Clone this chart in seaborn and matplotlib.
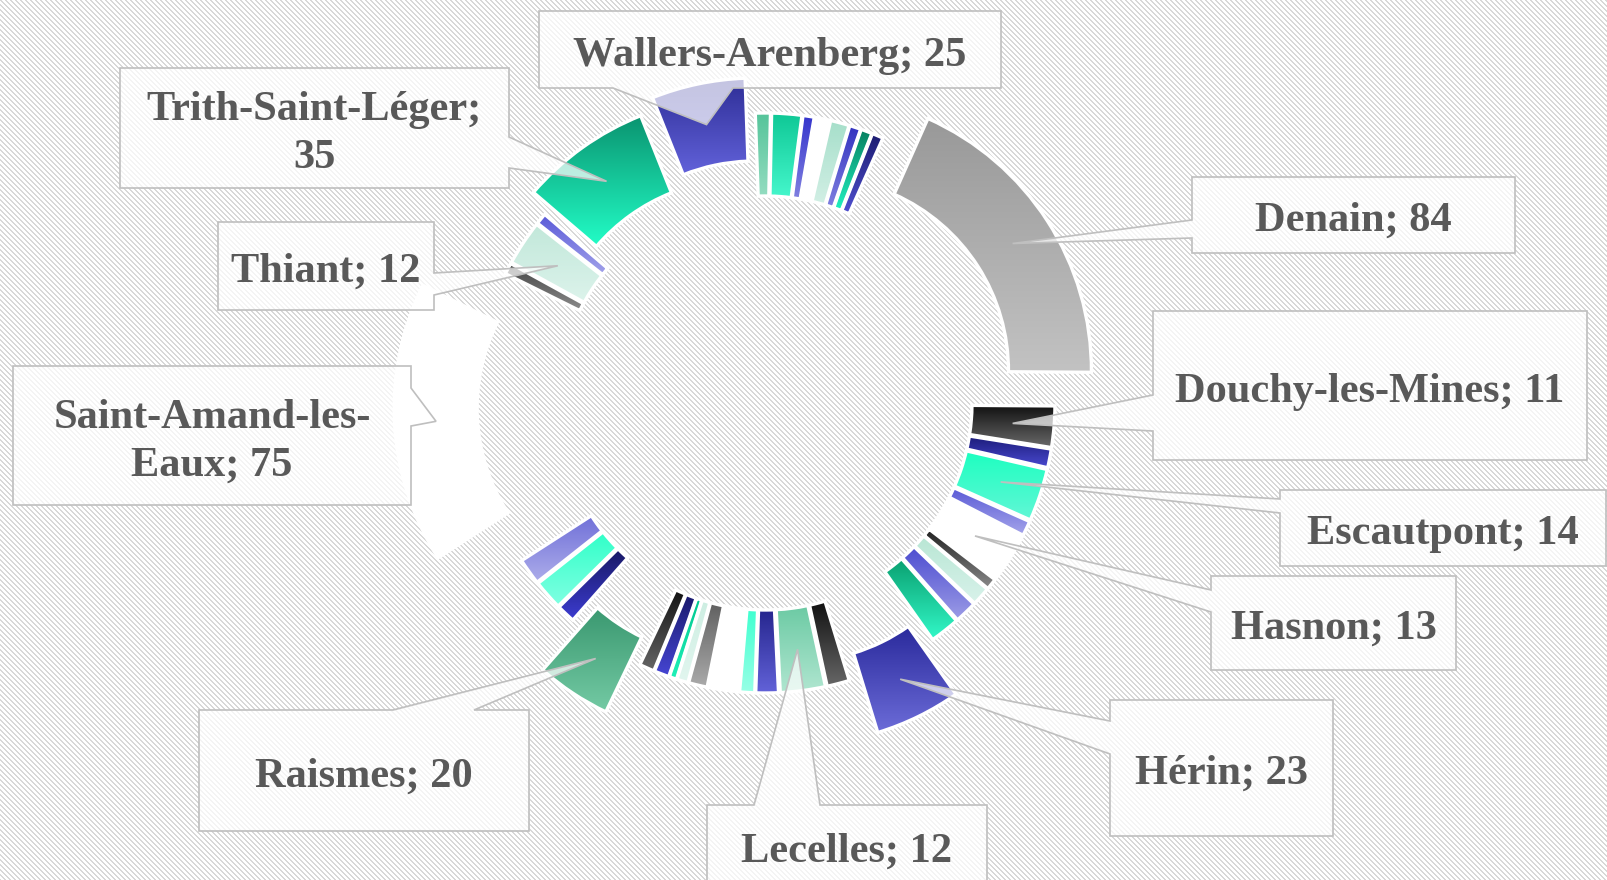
import numpy as np
import matplotlib
matplotlib.use("Agg")
import matplotlib.pyplot as plt
from matplotlib.patches import Polygon
import seaborn as sns

# slices clockwise from the top; unnamed slices carry no label in the chart
names = ["", "", "", "", "", "", "", "",
         "Denain", "Douchy-les-Mines", "", "Escautpont", "", "Hasnon",
         "", "", "", "", "Hérin",
         "", "Lecelles", "", "", "", "", "", "", "", "",
         "Raismes", "", "", "",
         "Saint-Amand-les-Eaux", "", "Thiant", "",
         "Trith-Saint-Léger", "Wallers-Arenberg"]
values = [4, 8, 3, 4, 5, 3, 3, 3,
          84, 11, 5, 14, 4, 13,
          3, 5, 6, 8, 23,
          6, 12, 6, 4, 8, 5, 3, 2, 4, 4,
          20, 5, 8, 7,
          75, 3, 12, 3,
          35, 25]

# gradient colours (top, bottom) for each slice
grads = [("#55c49a", "#93dcc0"), ("#0fc896", "#45f7cc"), ("#3535cc", "#8080e0"),
         ("#ffffff", "#ffffff"), ("#a6dfca", "#d2efe5"), ("#3333c0", "#8080e0"),
         ("#078060", "#22f2c2"), ("#1c1c70", "#5050d0"),
         ("#999999", "#c2c2c2"), ("#111111", "#6a6a6a"), ("#1c1c7a", "#4a4ad0"),
         ("#1cffc0", "#62f7d6"), ("#5a5ad6", "#a4a4ea"), ("#ffffff", "#ffffff"),
         ("#222222", "#8a8a8a"), ("#b8e6d4", "#d8f2ea"), ("#4c4cd0", "#9c9ce6"),
         ("#0aa070", "#32f8c8"), ("#2a2a9c", "#6c6cd8"),
         ("#111111", "#666666"), ("#6ccaa4", "#b0e6d0"), ("#26268e", "#6262d8"),
         ("#40ffd0", "#98ffe6"), ("#ffffff", "#ffffff"), ("#606060", "#aaaaaa"),
         ("#cdeee2", "#e2f6ef"), ("#00c890", "#20f0b8"), ("#1a1a6c", "#4646d4"),
         ("#111111", "#666666"),
         ("#3a9870", "#74caa4"), ("#181864", "#3c3cd0"), ("#30ffc8", "#80ffe2"),
         ("#7070d8", "#acacea"),
         ("#ffffff", "#ffffff"), ("#444444", "#8c8c8c"), ("#c2e8da", "#dcf3eb"),
         ("#5a5ad8", "#a2a2ea"),
         ("#0a9470", "#22fcc6"), ("#2e2e96", "#6262da")]

# exploded slices (pixels), the rest use the default
explode_px = {"Denain": 60, "Hérin": 73, "Raismes": 72, "Saint-Amand-les-Eaux": 95,
              "Trith-Saint-Léger": 38, "Wallers-Arenberg": 50}
default_explode = 14

# label boxes in image pixels: (x0, y0, x1, y1), pointer side, pointer base
callouts = {
    "Wallers-Arenberg": ((539, 11, 1001, 88), "bottom", (613, 733)),
    "Trith-Saint-Léger": ((120, 68, 509, 188), "right", (137, 168)),
    "Thiant": ((218, 222, 434, 310), "right", (273, 295)),
    "Saint-Amand-les-Eaux": ((13, 366, 411, 505), "right", (388, 426)),
    "Raismes": ((199, 710, 529, 831), "top", (393, 474)),
    "Lecelles": ((707, 805, 987, 887), "top", (754, 820)),
    "Hérin": ((1110, 700, 1333, 836), "left", (721, 754)),
    "Hasnon": ((1211, 576, 1456, 670), "left", (590, 612)),
    "Escautpont": ((1280, 490, 1606, 566), "left", (499, 513)),
    "Douchy-les-Mines": ((1153, 311, 1587, 460), "left", (395, 431)),
    "Denain": ((1192, 177, 1515, 253), "left", (220, 238)),
}

W, H = 1608, 880
CENTER = (765, H - 403)
R_OUT, RING = 276, 83


def label_text(name, v):
    if name == "Saint-Amand-les-Eaux":
        return f"Saint-Amand-les-\nEaux; {v}"
    if name == "Trith-Saint-Léger":
        return f"{name};\n{v}"
    return f"{name}; {v}"


def callout_points(box, side, base, tip):
    x0, y0, x1, y1 = box
    b0, b1 = base
    if side == "left":
        pts = [(x0, y0), (x1, y0), (x1, y1), (x0, y1), (x0, b1), tip, (x0, b0)]
    elif side == "right":
        pts = [(x0, y0), (x1, y0), (x1, b0), tip, (x1, b1), (x1, y1), (x0, y1)]
    elif side == "top":
        pts = [(x0, y0), (b0, y0), tip, (b1, y0), (x1, y0), (x1, y1), (x0, y1)]
    else:
        pts = [(x0, y0), (x1, y0), (x1, y1), (b1, y1), tip, (b0, y1), (x0, y1)]
    return [(x, H - y) for x, y in pts]


sns.set_theme(style="white")
plt.rcParams["font.family"] = ["Liberation Serif", "DejaVu Serif"]

fig = plt.figure(figsize=(W / 100, H / 100), dpi=100)
ax = fig.add_axes([0, 0, 1, 1])

# hatched background
yy, xx = np.mgrid[0:H, 0:W]
stripe = ((xx - yy) % 5) < 2
bg = np.where(stripe[..., None], np.array([0.85, 0.85, 0.85]), np.array([1.0, 1.0, 1.0]))
ax.imshow(bg, extent=(0, W, 0, H), origin="upper", interpolation="nearest", zorder=0)

explode = [explode_px.get(n, default_explode) for n in names]
wedges, _ = ax.pie(values, radius=R_OUT, center=CENTER, startangle=92,
                   counterclock=False, explode=explode,
                   wedgeprops=dict(width=RING, facecolor="none",
                                   edgecolor="white", linewidth=2.4))

for w, (top, bot) in zip(wedges, grads):
    bb = w.get_path().get_extents()
    grad = np.array(sns.blend_palette([top, bot], n_colors=64))[:, None, :3]
    im = ax.imshow(grad, extent=(bb.x0, bb.x1, bb.y0, bb.y1), origin="upper",
                   aspect="auto", interpolation="bilinear", zorder=2)
    im.set_clip_path(w)
    w.set_zorder(3)

r_mid = R_OUT - RING / 2
for w, name, v in zip(wedges, names, values):
    if not name:
        continue
    box, side, base = callouts[name]
    th = np.deg2rad((w.theta1 + w.theta2) / 2)
    tx = w.center[0] + r_mid * np.cos(th)
    ty = w.center[1] + r_mid * np.sin(th)
    pts = callout_points(box, side, base, (tx, H - ty))
    ax.add_patch(Polygon(pts, closed=True, facecolor=(1, 1, 1, 0.72),
                         edgecolor="#bfbfbf", linewidth=1.2, zorder=5))
    cx = (box[0] + box[2]) / 2
    cy = H - (box[1] + box[3]) / 2 - 6
    ax.text(cx, cy, label_text(name, v), ha="center", va="center",
            fontsize=30.5, fontweight="bold", color="#595959",
            linespacing=1.33, zorder=6)

ax.set_xlim(0, W)
ax.set_ylim(0, H)
ax.set_aspect("equal")
ax.axis("off")

fig.savefig("out.png", dpi=100)
